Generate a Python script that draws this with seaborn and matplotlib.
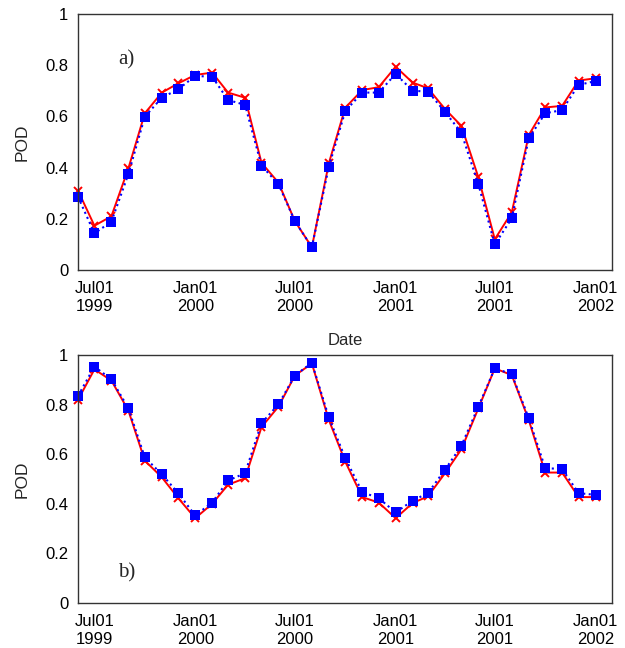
import pandas as pd
import matplotlib
matplotlib.use("Agg")
import matplotlib.pyplot as plt
import matplotlib.dates as mdates
import seaborn as sns

sns.set_style('white')
plt.rcParams['font.family'] = ['Liberation Sans', 'DejaVu Sans']

# monthly dates, Jun 1999 .. Jan 2002
dates = pd.date_range('1999-06-01', '2002-01-01', freq='MS')

# panel a
pod_a_red = [0.31, 0.173, 0.21, 0.397, 0.612, 0.693, 0.729, 0.762, 0.771, 0.693, 0.673,
             0.419, 0.341, 0.191, 0.089, 0.417, 0.634, 0.703, 0.714, 0.794, 0.732, 0.71,
             0.629, 0.563, 0.362, 0.12, 0.225, 0.527, 0.635, 0.641, 0.74, 0.749]
pod_a_blue = [0.286, 0.143, 0.189, 0.375, 0.599, 0.673, 0.706, 0.758, 0.755, 0.664, 0.645,
              0.408, 0.335, 0.191, 0.089, 0.404, 0.621, 0.693, 0.693, 0.766, 0.70, 0.697,
              0.618, 0.536, 0.335, 0.10, 0.202, 0.514, 0.612, 0.625, 0.723, 0.738]

# panel b
pod_b_red = [0.819, 0.942, 0.897, 0.776, 0.574, 0.507, 0.423, 0.342, 0.40, 0.477, 0.503,
             0.709, 0.792, 0.917, 0.966, 0.738, 0.570, 0.427, 0.405, 0.342, 0.403, 0.43,
             0.523, 0.62, 0.785, 0.946, 0.919, 0.738, 0.526, 0.526, 0.427, 0.427]
pod_b_blue = [0.835, 0.953, 0.902, 0.785, 0.587, 0.519, 0.443, 0.353, 0.405, 0.494, 0.523,
              0.725, 0.801, 0.917, 0.969, 0.748, 0.584, 0.447, 0.423, 0.365, 0.413, 0.443,
              0.537, 0.634, 0.792, 0.946, 0.923, 0.745, 0.544, 0.54, 0.443, 0.436]

yticks = [0, 0.2, 0.4, 0.6, 0.8, 1]
ytick_labels = ['0', '0.2', '0.4', '0.6', '0.8', '1']

W, H = 625, 648
fig = plt.figure(figsize=(W / 100, H / 100), dpi=100)
ax1 = fig.add_axes([78 / W, 1 - 270 / H, 534 / W, 256 / H])
ax2 = fig.add_axes([78 / W, 1 - 603 / H, 534 / W, 248 / H])


def draw(ax, red, blue, tag, tag_y):
    df = pd.DataFrame({'date': dates, 'red': red, 'blue': blue})
    sns.lineplot(data=df, x='date', y='red', ax=ax, color='#ff0000', linewidth=1.4,
                 marker='x', markersize=6, markeredgewidth=1.4, markeredgecolor='#ff0000',
                 clip_on=False)
    sns.lineplot(data=df, x='date', y='blue', ax=ax, color='#0000ff', linewidth=1.5,
                 linestyle=':', marker='s', markersize=6.5, markeredgewidth=0,
                 markerfacecolor='#0000ff', clip_on=False)
    ax.set_ylim(0, 1)
    ax.set_xlim(pd.Timestamp('1999-06-01'), pd.Timestamp('2002-01-31'))
    ax.set_yticks(yticks)
    ax.set_yticklabels(ytick_labels)
    ax.xaxis.set_major_locator(mdates.MonthLocator(bymonth=[1, 7]))
    ax.xaxis.set_major_formatter(mdates.DateFormatter('%b%d\n%Y'))
    ax.xaxis.set_minor_locator(mdates.MonthLocator())
    ax.tick_params(axis='x', which='major', direction='in', length=6, width=0.8,
                   labelsize=12, pad=8, colors='#333333', labelcolor='black')
    ax.tick_params(axis='x', which='minor', direction='in', length=3.5, width=0.8,
                   colors='#333333')
    ax.tick_params(axis='y', direction='in', length=3, width=0.8, labelsize=12,
                   colors='#333333', labelcolor='black', pad=7)
    for s in ax.spines.values():
        s.set_color('#333333')
        s.set_linewidth(1.0)
    ax.set_ylabel('POD', fontsize=12.5, labelpad=11)
    ax.set_xlabel('')
    ax.text(0.075, tag_y, tag, transform=ax.transAxes, fontsize=15,
            family='Liberation Serif', va='center')


draw(ax1, pod_a_red, pod_a_blue, 'a)', 0.82)
draw(ax2, pod_b_red, pod_b_blue, 'b)', 0.12)
ax1.set_xlabel('Date', fontsize=12, labelpad=14)

fig.savefig('out.png', dpi=100)
